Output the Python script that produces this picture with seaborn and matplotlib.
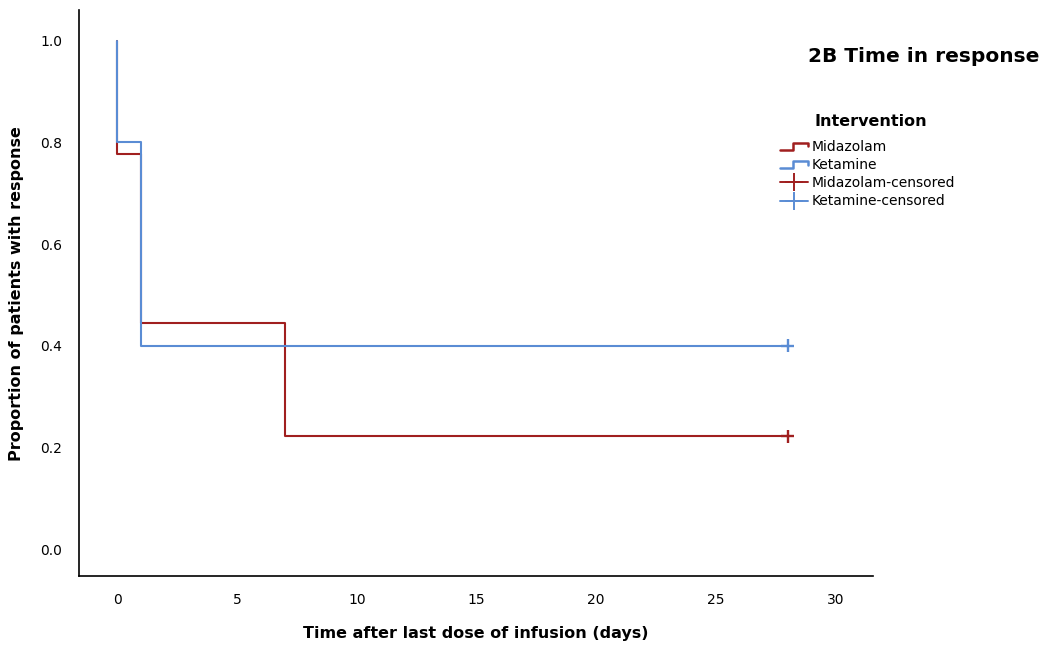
import numpy as np
import pandas as pd
import matplotlib
matplotlib.use("Agg")
import matplotlib.pyplot as plt
import seaborn as sns
from matplotlib.lines import Line2D
from matplotlib.legend_handler import HandlerLine2D

# Kaplan-Meier style step data
mid_time = [0, 0, 1, 7, 28]
mid_surv = [1.0, 0.778, 0.444, 0.222, 0.222]
ket_time = [0, 0, 1, 28]
ket_surv = [1.0, 0.8, 0.4, 0.4]
censor_time = [28, 28]
censor_surv = [0.222, 0.4]
groups = ["Midazolam", "Ketamine"]

RED = "#a01f1f"
BLUE = "#5a8cd4"

df = pd.concat([
    pd.DataFrame({"time": mid_time, "surv": mid_surv, "group": "Midazolam"}),
    pd.DataFrame({"time": ket_time, "surv": ket_surv, "group": "Ketamine"}),
], ignore_index=True)
cens = pd.DataFrame({"time": censor_time, "surv": censor_surv, "group": groups})


class StepHandler(HandlerLine2D):
    """Draws a little step shape as legend icon"""
    def create_artists(self, legend, orig_handle, xdescent, ydescent,
                       width, height, fontsize, trans):
        x0, x1 = -xdescent, -xdescent + width
        ylo, yhi = -ydescent + height * 0.15, -ydescent + height * 0.85
        xm = x0 + width * 0.45
        xs = [x0, xm, xm, x1, x1]
        ys = [ylo, ylo, yhi, yhi, ylo + (yhi - ylo) * 0.45]
        ln = Line2D(xs, ys, color=orig_handle.get_color(), lw=1.8)
        ln.set_transform(trans)
        return [ln]


sns.set_style("white")
plt.rcParams.update({"text.color": "black", "axes.labelcolor": "black",
                     "xtick.color": "black", "ytick.color": "black"})
fig = plt.figure(figsize=(10.47, 6.45), dpi=100)
ax = fig.add_axes([0.0755, 0.107, 0.758, 0.877])

sns.lineplot(data=df, x="time", y="surv", hue="group", palette=[RED, BLUE],
             estimator=None, sort=False, drawstyle="steps-post", lw=1.5,
             legend=False, ax=ax)
sns.scatterplot(data=cens, x="time", y="surv", hue="group", palette=[RED, BLUE],
                marker="+", s=90, linewidth=1.7, legend=False, ax=ax)

ax.set_xlim(-1.6, 31.55)
ax.set_ylim(-0.053, 1.06)
ax.set_xticks([0, 5, 10, 15, 20, 25, 30])
ax.set_yticks([0.0, 0.2, 0.4, 0.6, 0.8, 1.0])
ax.set_yticklabels(["0.0", "0.2", "0.4", "0.6", "0.8", "1.0"])
ax.tick_params(axis="both", length=0, labelsize=10, pad=12)
for s in ["top", "right"]:
    ax.spines[s].set_visible(False)
for s in ["left", "bottom"]:
    ax.spines[s].set_color("black")
    ax.spines[s].set_linewidth(1.2)

ax.set_xlabel("Time after last dose of infusion (days)", fontsize=11.5,
              fontweight="bold", labelpad=14)
ax.set_ylabel("Proportion of patients with response", fontsize=11.5,
              fontweight="bold", labelpad=12)

fig.text(0.772, 0.913, "2B Time in response", fontsize=14.5, fontweight="bold",
         va="center", ha="left")
fig.text(0.778, 0.812, "Intervention", fontsize=11.5, fontweight="bold",
         va="center", ha="left")

handles = [
    Line2D([], [], color=RED),
    Line2D([], [], color=BLUE),
    Line2D([], [], color=RED, marker="+", markersize=13, lw=1.4, mew=1.4),
    Line2D([], [], color=BLUE, marker="+", markersize=13, lw=1.4, mew=1.4),
]
labels = ["Midazolam", "Ketamine", "Midazolam-censored", "Ketamine-censored"]
leg = fig.legend(handles, labels, loc="upper left",
                 bbox_to_anchor=(0.745, 0.783), frameon=False, fontsize=10,
                 handlelength=2.0, handletextpad=0.3, labelspacing=0.3,
                 borderpad=0, borderaxespad=0,
                 handler_map={handles[0]: StepHandler(), handles[1]: StepHandler()})

fig.savefig("out.png", dpi=100)
